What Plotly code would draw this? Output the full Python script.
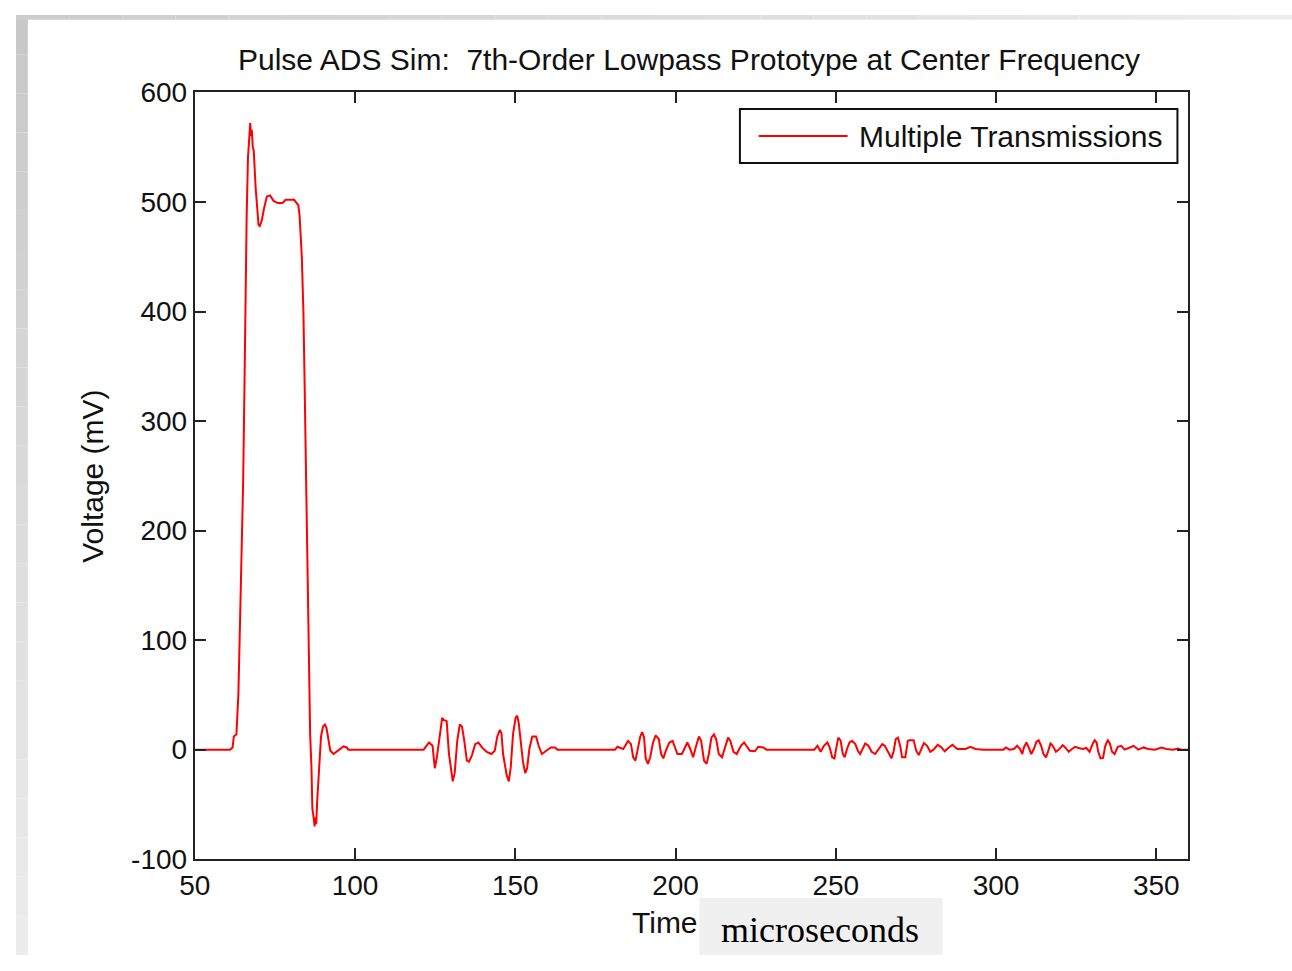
import plotly.graph_objects as go

W, H = 1292, 971

# ---------------- data ----------------
# main pulse
pulse_t = [50, 61.0, 61.8, 62.2, 63.0, 63.6, 64.0, 64.6, 65.1, 65.5, 65.8, 66.2, 66.6, 67.0,
           67.3, 67.6, 67.8, 68.1, 68.4, 69.0, 69.9, 70.3, 70.9, 71.6, 72.5, 73.5, 74.6, 75.9,
           77.4, 78.3, 81.0, 82.3, 82.7, 83.4, 83.9, 84.3, 84.7, 85.0, 85.4, 85.7, 86.0, 86.4,
           86.7, 87.1, 87.4, 87.6, 87.9, 88.2, 88.6, 89.0, 89.4, 90.0, 90.6, 91.1, 91.6, 92.3,
           93.3, 94.1, 95.4, 96.4, 97.4, 97.9]
pulse_v = [0, 0, 2, 12, 14, 50, 100, 180, 245, 330, 420, 488, 540, 560,
           572, 560, 566, 550, 547, 513, 479, 478, 483, 494, 505, 506, 501, 499,
           499, 502, 502, 497, 488, 450, 400, 330, 250, 180, 130, 60, 14, -15,
           -54, -62, -70, -62, -68, -47, -25, -8, 12, 21, 23, 20, 12, -1,
           -4, -2, 1, 3, 2, 0]

# first echo group
echo1_t = [121.4, 123.1, 124.2, 124.9, 125.5, 126.5, 127.2, 127.7, 128.6, 129.3, 130.0, 130.5,
           131.1, 131.9, 132.7, 133.4, 134.1, 134.9, 135.6, 136.5, 137.5, 138.5, 139.6, 141.1,
           142.6, 143.6, 144.4, 145.2, 145.7, 146.2, 147.3, 148.0, 148.6, 149.3, 150.1, 150.6,
           151.1, 151.7, 152.4, 153.1, 153.7, 154.4, 155.3, 156.5, 157.3, 158.3, 159.6, 161.1,
           162.4, 163.2]
echo1_v = [0, 6.5, 3.5, -17, -8, 12, 29, 27, 26, -3.5, -20, -29,
           -21.5, 8, 23, 21, 8, -10, -11, -5, 5, 6.5, 2, -2,
           -4, -1, 12, 18, 15, -4, -23, -29, -16, 14, 29, 31,
           24, 8, -11, -21.5, -17, 0.6, 12, 12, 3.5, -4, -1, 2,
           2, 0]

# second echo group
echo2_t = [181.1, 181.9, 183.7, 185.2, 186.1, 186.8, 187.5, 188.3, 189.0, 189.6, 190.2, 190.7,
           191.4, 192.1, 193.0, 193.8, 194.8, 195.5, 196.2, 197.0, 198.1, 199.1, 199.8, 200.6,
           202.0, 202.9, 203.7, 204.6, 205.5, 206.3, 207.3, 208.0, 208.9, 209.7, 210.4, 211.2,
           212.0, 212.7, 213.5, 214.5, 215.5, 216.4, 217.1, 218.1, 219.1, 220.4, 221.4, 222.2,
           223.2, 224.8, 225.8, 227.4, 228.4]
echo2_v = [0, 2.6, 0.6, 8, 5, -7, -10, 0.6, 12, 16, 11, -8,
           -13, -7, 6.5, 13, 9.5, -4, -8, -1, 6.5, 8, 2, -4,
           -4, 2, 6.5, 0.6, -7, 2, 12, 8, -10, -13, -4, 11,
           14, 9.5, -4, -7, 3.5, 11, 8, -2, -4, 3.5, 6.5, 3.5,
           -1, -1.5, 2.6, 2, 0]

# third echo group
echo3_t = [243.3, 244.3, 245.3, 246.3, 247.4, 248.1, 248.9, 249.6, 250.2, 250.8, 251.5, 252.2,
           252.8, 253.5, 254.3, 255.1, 256.1, 256.9, 257.6, 258.5, 259.2, 260.2, 261.2, 262.3,
           263.3, 264.5, 265.3, 266.3, 267.4, 268.1, 268.7, 269.4, 270.2, 270.7, 271.7, 272.5,
           273.0, 274.3, 275.1, 275.9, 276.7, 277.5, 278.5, 279.5, 280.5, 281.8, 282.8, 284.0,
           285.1, 286.4, 287.9, 290.5, 292.0, 293.6, 296.1]
echo3_v = [0, 3.5, -2, 3.5, 6.5, 2, -7, -8, 2, 11, 8.5, -4,
           -7, 0.6, 6.5, 8, 5, -1, -4, 2, 5.6, 3.5, -2, -4,
           0.6, 5, 3.5, -2, -8, -1, 9.5, 11, 2, -7, -7, 8,
           8.5, 8.5, -1, -5, 0.6, 6, 3.5, -2, 0, 4.4, 2.6, -1.5,
           1.5, 4.4, 0.6, 0.6, 2.6, 0.6, 0]

# fourth echo group
echo4_t = [302.3, 303.1, 304.2, 305.6, 306.6, 307.5, 308.2, 308.7, 309.5, 310.2, 311.0, 311.8,
           312.6, 313.3, 314.1, 314.8, 315.6, 316.2, 317.0, 317.7, 318.7, 319.6, 320.8, 321.6,
           322.7, 323.7, 324.7, 325.8, 327.0, 328.2, 329.2, 330.1, 330.8, 331.4, 331.9, 332.6,
           333.4, 334.1, 334.9, 335.5, 336.2, 337.0, 338.0, 339.1, 340.1, 341.4, 342.9, 344.4,
           346.0, 347.5, 349.6, 351.6, 353.2, 355.2, 356.8, 357.8, 360.0]
echo4_v = [0, 2, 0, 0.6, 3.5, 0.6, -4, 2, 6.5, 2, -4, 0.6,
           7, 8.5, 3.5, -4, -7, -2, 5.6, 3.5, -2, 0, 4, 2,
           -2, 0.6, 2.6, 1.5, 0.6, 1.5, -2, 5, 8.5, 6.5, -2, -8,
           -7.5, 3.5, 8.5, 6, -2, -4, 2.6, 3.5, 0, 1.5, 3.5, 0,
           2, 0.6, 0, 2, 0.6, 0, 1, 0, 0]

x_ticks = [50, 100, 150, 200, 250, 300, 350]
y_ticks = [-100, 0, 100, 200, 300, 400, 500, 600]

time_us = pulse_t + echo1_t + echo2_t + echo3_t + echo4_t
voltage_mv = pulse_v + echo1_v + echo2_v + echo3_v + echo4_v

# ---------------- helpers for pixel placement ----------------
def px(x):
    return x / W

def py(y):
    return 1 - y / H

FONT = "Liberation Sans, Arial, sans-serif"
TXT = "#111111"

fig = go.Figure()
fig.add_trace(go.Scatter(
    x=time_us, y=voltage_mv, mode="lines",
    name="Multiple Transmissions",
    line=dict(color="#ff0000", width=2),
    showlegend=False,
))

axis_common = dict(
    showline=True, linecolor="#222222", linewidth=2,
    mirror="ticks", ticks="inside", ticklen=11, tickwidth=2, tickcolor="#222222",
    showgrid=False, zeroline=False,
    tickfont=dict(family=FONT, size=28, color=TXT),
)

fig.update_layout(
    width=W, height=H, autosize=False,
    margin=dict(l=0, r=0, t=0, b=0),
    paper_bgcolor="white", plot_bgcolor="white",
    xaxis=dict(range=[50, 360], tickvals=x_ticks, ticktext=[str(v) for v in x_ticks],
               domain=[px(181), px(1187)], **axis_common),
    yaxis=dict(range=[-100, 600], tickvals=y_ticks, ticktext=[str(v) for v in y_ticks],
               domain=[py(872), py(80)], **axis_common),
    title=dict(text="Pulse ADS Sim:  7th-Order Lowpass Prototype at Center Frequency",
               x=px(681.5), y=py(46), xanchor="center", yanchor="middle",
               xref="paper", yref="paper",
               font=dict(family=FONT, size=30, color=TXT)),
)

shapes = []
# gray frame on left and top edges (screenshot border)
n = 24
def gray(a, b, f):
    v = int(round(a + (b - a) * f))
    return f"rgb({v},{v},{v})"
for i in range(n):
    y0 = H * i / n
    y1 = H * (i + 1) / n
    shapes.append(dict(type="rect", xref="paper", yref="paper",
                       x0=0, x1=px(12), y0=py(y1), y1=py(y0),
                       fillcolor=gray(200, 236, i / (n - 1)), line=dict(width=0), layer="below"))
for i in range(n):
    x0 = W * i / n
    x1 = W * (i + 1) / n
    shapes.append(dict(type="rect", xref="paper", yref="paper",
                       x0=px(x0), x1=px(x1), y0=py(5), y1=1,
                       fillcolor=gray(204, 236, i / (n - 1)), line=dict(width=0), layer="below"))

# legend box
shapes.append(dict(type="rect", xref="paper", yref="paper",
                   x0=px(733), x1=px(1176), y0=py(153), y1=py(97),
                   fillcolor="white", line=dict(color="#111111", width=2)))
shapes.append(dict(type="line", xref="paper", yref="paper",
                   x0=px(752), x1=px(842), y0=py(125), y1=py(125),
                   line=dict(color="#ff0000", width=2)))
# box over the x label
shapes.append(dict(type="rect", xref="paper", yref="paper",
                   x0=px(692), x1=px(938), y0=0, y1=py(912),
                   fillcolor="#f0f0f0", line=dict(width=0)))

fig.update_layout(shapes=shapes)

fig.add_annotation(text="Multiple Transmissions", xref="paper", yref="paper",
                   x=px(852), y=py(126), xanchor="left", yanchor="middle", showarrow=False,
                   font=dict(family=FONT, size=30, color=TXT))
fig.add_annotation(text="Voltage (mV)", xref="paper", yref="paper",
                   x=px(78), y=py(477), xanchor="center", yanchor="middle", showarrow=False,
                   textangle=-90, font=dict(family=FONT, size=30, color=TXT))
fig.add_annotation(text="Time", xref="paper", yref="paper",
                   x=px(657), y=py(937), xanchor="center", yanchor="middle", showarrow=False,
                   font=dict(family=FONT, size=30, color=TXT))
fig.add_annotation(text="microseconds", xref="paper", yref="paper",
                   x=px(814), y=py(945), xanchor="center", yanchor="middle", showarrow=False,
                   font=dict(family="Liberation Serif, Times New Roman, serif", size=36, color="#000000"))

fig.write_html("out.html")
